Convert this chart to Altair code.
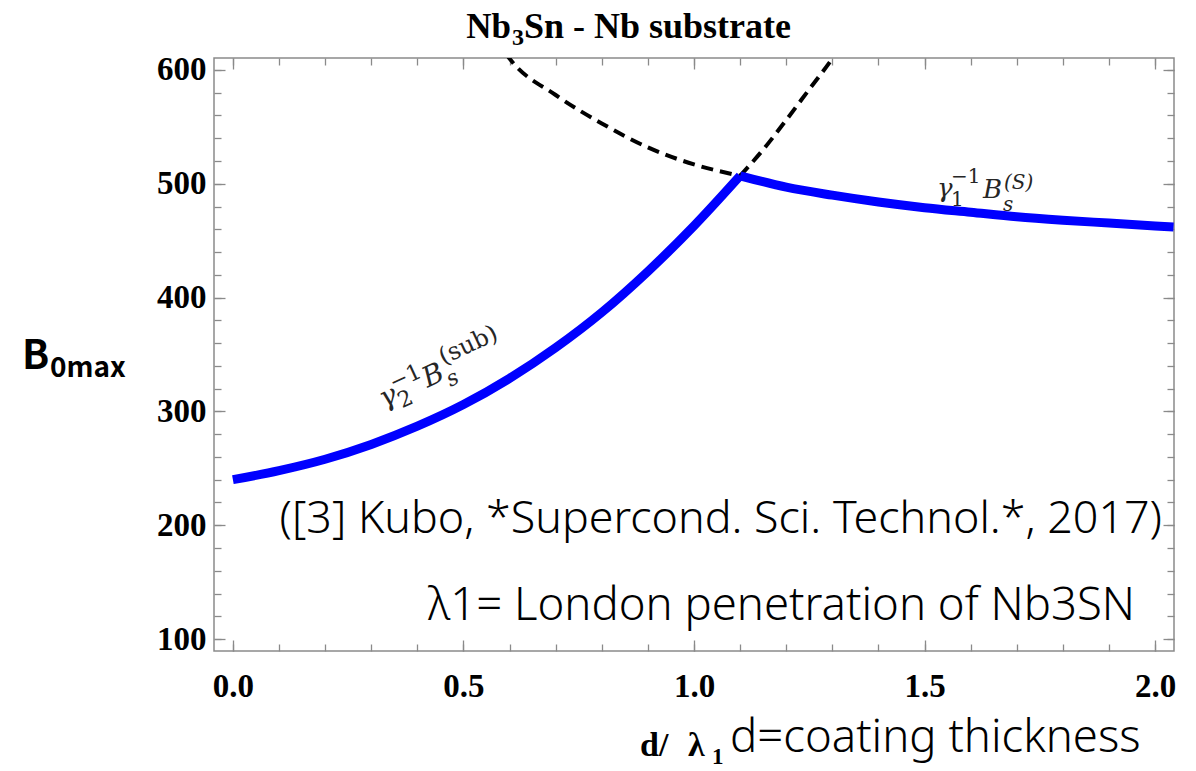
import altair as alt
import pandas as pd

# ---------------- data ----------------
d_left = [0.0, 0.1, 0.2, 0.3, 0.4, 0.5, 0.6, 0.7, 0.8, 0.9, 1.0, 1.1]
b_left = [240, 248, 258, 271, 287, 306, 329, 356, 387, 423, 463, 507]

d_right = [1.1, 1.2, 1.3, 1.4, 1.5, 1.6, 1.7, 1.8, 1.9, 2.0, 2.04]
b_right = [507, 497, 490, 484, 479, 475, 471, 468, 465.5, 463, 462]

d_dash_s = [0.57, 0.6, 0.7, 0.8, 0.9, 1.0, 1.1]
b_dash_s = [628, 610, 578, 553, 532, 517, 507]

d_dash_sub = [1.1, 1.15, 1.2, 1.25, 1.3, 1.33]
b_dash_sub = [507, 530, 556, 583, 610, 628]

x_major = [0.0, 0.5, 1.0, 1.5, 2.0]
x_minor = [round(i * 0.1, 1) for i in range(21)]
y_major = [100, 200, 300, 400, 500, 600]
y_minor = list(range(100, 601, 20))

ref_text = "([3] Kubo, *Supercond. Sci. Technol.*, 2017)"
lambda_text = "\u03bb1= London penetration of Nb3SN"
d_text = "d=coating thickness"

# ---------------- tables ----------------
blue_df = pd.concat([
    pd.DataFrame({"d": d_left, "B": b_left, "seg": "sub"}),
    pd.DataFrame({"d": d_right, "B": b_right, "seg": "S"}),
])
dash_df = pd.concat([
    pd.DataFrame({"d": d_dash_s, "B": b_dash_s, "seg": "S"}),
    pd.DataFrame({"d": d_dash_sub, "B": b_dash_sub, "seg": "sub"}),
])
one = pd.DataFrame({"a": [0]})

XS = alt.Scale(domain=[-0.041, 2.041], nice=False, zero=False)
YS = alt.Scale(domain=[89.5, 610.5], nice=False, zero=False)
TICK = "#8a8a8a"
TIMES = "Liberation Serif"


def tick_axis(orient, values, size, labels=False, **kw):
    return alt.Axis(orient=orient, values=values, offset=-size, tickSize=size,
                    tickColor=TICK, tickWidth=1.3, domain=False, grid=False,
                    labels=labels, title=None, **kw)


lab = dict(labelFont=TIMES, labelFontWeight="bold", labelFontSize=33,
           labelColor="black", labelFlush=False, labelOverlap=False, labelBound=False)

blue = alt.Chart(blue_df).mark_line(
    color="#0000ff", strokeWidth=9, interpolate="monotone", clip=True
).encode(
    x=alt.X("d:Q", scale=XS, axis=tick_axis("bottom", x_major, 11, labels=True,
                                            format=".1f", labelPadding=19, **lab)),
    y=alt.Y("B:Q", scale=YS, axis=tick_axis("left", y_major, 11, labels=True,
                                            format="d", labelPadding=8, **lab)),
    detail="seg:N",
)

dash = alt.Chart(dash_df).mark_line(
    color="black", strokeWidth=4, strokeDash=[12, 7], interpolate="monotone", clip=True
).encode(
    x=alt.X("d:Q", scale=XS, axis=tick_axis("bottom", x_minor, 7)),
    y=alt.Y("B:Q", scale=YS, axis=tick_axis("left", y_minor, 7)),
    detail="seg:N",
)

ghost1 = alt.Chart(blue_df).mark_line(strokeOpacity=0).encode(
    x=alt.X("d:Q", scale=XS, axis=tick_axis("top", x_major, 11)),
    y=alt.Y("B:Q", scale=YS, axis=tick_axis("right", y_major, 11)),
    detail="seg:N",
)
ghost2 = alt.Chart(blue_df).mark_line(strokeOpacity=0).encode(
    x=alt.X("d:Q", scale=XS, axis=tick_axis("top", x_minor, 7)),
    y=alt.Y("B:Q", scale=YS, axis=tick_axis("right", y_minor, 7)),
    detail="seg:N",
)


def txt(s, x, y, size, font, weight="normal", style="normal", align="left",
        baseline="alphabetic", angle=0, dx=0, dy=0, color="black"):
    return alt.Chart(one).mark_text(
        text=s, font=font, fontSize=size, fontWeight=weight, fontStyle=style,
        align=align, baseline=baseline, angle=angle, dx=dx, dy=dy, color=color
    ).encode(x=alt.value(x), y=alt.value(y))


CJK = "Noto Sans CJK SC"
SANS = "Noto Sans"
MATH = "DejaVu Serif"
MC = "#262626"
M, S = 26, 20

texts = [
    # title  Nb3Sn - Nb substrate
    txt("Nb", 297, -20, 35, TIMES, weight="bold", align="right"),
    txt("3", 298, -13, 24, TIMES, weight="bold"),
    txt("Sn - Nb substrate", 310, -20, 36, TIMES, weight="bold"),
    # y label
    txt("B", -192, 311, 40, CJK, weight="bold"),
    txt("0max", -164, 319, 28, CJK, weight="bold"),
    # x label
    txt("d/", 426, 698, 34, TIMES, weight="bold"),
    txt("\u03bb", 474, 698, 34, TIMES, weight="bold"),
    txt("1", 498, 706, 23, TIMES, weight="bold"),
    txt(d_text, 516, 694, 45.5, SANS, weight=300),
    # annotations
    txt(ref_text, 948, 475, 44.8, SANS, weight=300, align="right"),
    txt(lambda_text, 921, 562, 45.5, SANS, weight=300, align="right"),
    # label gamma1^-1 B_s^(S)
    txt("\u03b3", 723, 139, M, MATH, style="italic", color=MC),
    txt("1", 737, 148, S, MATH, color=MC),
    txt("\u22121", 737, 125, S, MATH, color=MC),
    txt("B", 769, 140, M, MATH, style="italic", color=MC),
    txt("s", 789, 153, S, MATH, style="italic", color=MC),
    txt("(S)", 790, 131, S, MATH, style="italic", color=MC),
]

# rotated label gamma2^-1 B_s^(sub)
ax, ay, ang = 170, 350, 335
texts += [
    txt("\u03b3", ax, ay, 28, MATH, style="italic", angle=ang, color=MC),
    txt("2", ax, ay, 22, MATH, angle=ang, dx=16, dy=8, color=MC),
    txt("\u22121", ax, ay, 22, MATH, angle=ang, dx=16, dy=-12, color=MC),
    txt("B", ax, ay, 28, MATH, style="italic", angle=ang, dx=48, dy=0, color=MC),
    txt("s", ax, ay, 22, MATH, style="italic", angle=ang, dx=69, dy=9, color=MC),
    txt("(sub)", ax, ay, 24, MATH, angle=ang, dx=72, dy=-14, color=MC),
]

chart = alt.layer(ghost1, ghost2, dash, blue, *texts).resolve_axis(
    x="independent", y="independent"
).properties(
    width=960, height=593,
    autosize=alt.AutoSizeParams(type="none"),
    padding={"left": 214, "top": 58, "right": 22, "bottom": 120},
).configure_view(stroke="#8a8a8a", strokeWidth=1.5)

chart.save("out.html", embed_options={"renderer": "svg", "actions": False})
